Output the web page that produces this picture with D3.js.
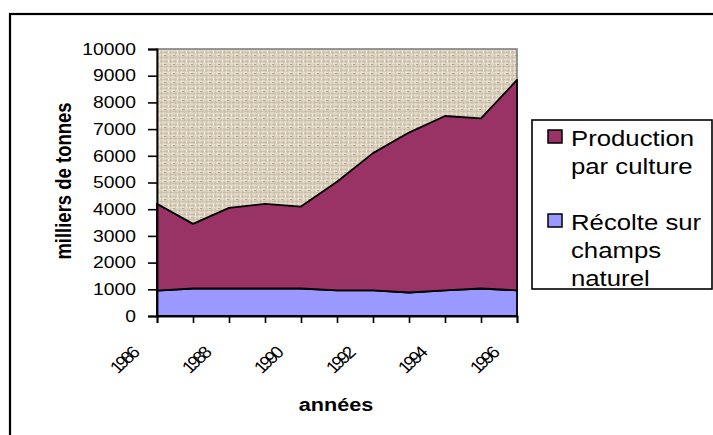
<!DOCTYPE html>
<html><head><meta charset="utf-8">
<script src="https://cdn.jsdelivr.net/npm/d3@7/dist/d3.min.js"></script>
<style>body{margin:0;background:#fff} svg{display:block}</style>
</head><body><svg id="c" width="713" height="435"></svg>
<script>
// ---- data ----
const years = [1986,1987,1988,1989,1990,1991,1992,1993,1994,1995,1996];
const naturel = [950,1030,1030,1030,1030,960,960,880,960,1030,960];
const culture = [3250,2420,3020,3170,3070,4070,5140,5990,6530,6370,7880];
const yTicks = [0,1000,2000,3000,4000,5000,6000,7000,8000,9000,10000];
const xLabelYears = [1986,1988,1990,1992,1994,1996];
const legendCulture = ["Production","par culture"];
const legendNaturel = ["Récolte sur","champs","naturel"];
const yTitle = "milliers de tonnes";
const xTitle = "années";

// ---- setup ----
const svg = d3.select("#c");
const FONT = "Arial, 'Liberation Sans', Helvetica, sans-serif";
const SX = 1.17; // horizontal stretch of the original picture
const colCulture = "#993366", colNaturel = "#9999ff";

const x = d3.scaleLinear().domain([1986,1996]).range([157,517]);
const y = d3.scaleLinear().domain([0,10000]).range([316,49]);

// outer frame
svg.append("rect").attr("x",10).attr("y",14).attr("width",720).attr("height",440)
  .attr("fill","none").attr("stroke","#000").attr("stroke-width",2.2);

// texture pattern
const defs = svg.append("defs");
const pat = defs.append("pattern").attr("id","burlap").attr("patternUnits","userSpaceOnUse")
  .attr("width",9).attr("height",9);
pat.append("rect").attr("width",9).attr("height",9).attr("fill","#d8cebb");
[[0,"#ece5d6",1.2],[3,"#c7baa3",0.8],[5,"#e4dccb",1],[7,"#bfb39d",0.6]].forEach(([o,c,w])=>{
  pat.append("rect").attr("x",0).attr("y",o).attr("width",9).attr("height",w).attr("fill",c).attr("opacity",0.8);
  pat.append("rect").attr("x",o+1).attr("y",0).attr("width",w).attr("height",9).attr("fill",c).attr("opacity",0.6);
});
pat.append("rect").attr("x",2).attr("y",1).attr("width",2).attr("height",1).attr("fill","#b3a68f");
pat.append("rect").attr("x",6).attr("y",6).attr("width",1).attr("height",2).attr("fill","#f3eee3");

// plot area
svg.append("rect").attr("x",x(1986)).attr("y",y(10000))
  .attr("width",x(1996)-x(1986)).attr("height",y(0)-y(10000))
  .attr("fill","url(#burlap)").attr("stroke","#808080").attr("stroke-width",1.6);

// stacked areas
const rows = years.map((yr,i)=>({year:yr, naturel:naturel[i], culture:culture[i]}));
const stack = d3.stack().keys(["naturel","culture"])(rows);
const area = d3.area().x(d=>x(d.data.year)).y0(d=>y(d[0])).y1(d=>y(d[1]));
const cols = {naturel:colNaturel, culture:colCulture};
svg.append("g").selectAll("path").data(stack).join("path")
  .attr("d",area).attr("fill",d=>cols[d.key])
  .attr("stroke","#000").attr("stroke-width",1.8).attr("stroke-linejoin","round");

// y axis
const gy = svg.append("g").attr("transform",`translate(${x(1986)},0)`)
  .call(d3.axisLeft(y).tickValues(yTicks).tickSize(9).tickFormat(d3.format("d")));
gy.select(".domain").attr("stroke","#000").attr("stroke-width",1.8);
gy.selectAll(".tick line").attr("stroke","#000").attr("stroke-width",1.6);
gy.selectAll(".tick text").attr("x",0).attr("transform",`translate(-21,0) scale(${SX},1)`)
  .attr("font-family",FONT).attr("font-size",16.5).attr("fill","#000");

// x axis
const gx = svg.append("g").attr("transform",`translate(0,${y(0)})`)
  .call(d3.axisBottom(x).tickValues(years).tickSize(7).tickFormat(""));
gx.select(".domain").attr("stroke","#000").attr("stroke-width",1.8);
gx.selectAll(".tick line").attr("stroke","#000").attr("stroke-width",1.6);

svg.append("g").selectAll("text").data(xLabelYears).join("text")
  .attr("transform",d=>`translate(${x(d)-18},${y(0)+39}) scale(1.1,1) rotate(-45)`)
  .attr("text-anchor","end").attr("font-family",FONT).attr("font-size",17)
  .attr("letter-spacing",-2.6).attr("fill","#000").text(d=>d);

// axis titles
svg.append("text").attr("transform",`translate(71,181) scale(${SX},1) rotate(-90)`)
  .attr("text-anchor","middle").attr("font-family",FONT).attr("font-weight","bold")
  .attr("font-size",18.5).attr("fill","#000").text(yTitle);
svg.append("text").attr("transform",`translate(336,411) scale(${SX},1)`)
  .attr("text-anchor","middle").attr("font-family",FONT).attr("font-weight","bold")
  .attr("font-size",18.5).attr("fill","#000").text(xTitle);

// legend
const lg = svg.append("g");
lg.append("rect").attr("x",532).attr("y",120).attr("width",180).attr("height",169)
  .attr("fill","#fff").attr("stroke","#000").attr("stroke-width",1.6);
const items = [{lines:legendCulture, col:colCulture, top:130},{lines:legendNaturel, col:colNaturel, top:214}];
items.forEach(it=>{
  lg.append("rect").attr("x",548).attr("y",it.top).attr("width",14).attr("height",13)
    .attr("fill",it.col).attr("stroke","#000").attr("stroke-width",1.5);
  it.lines.forEach((t,i)=>{
    lg.append("text").attr("transform",`translate(571,${it.top+16+i*28}) scale(${SX},1)`)
      .attr("font-family",FONT).attr("font-size",22).attr("fill","#000").text(t);
  });
});
</script></body></html>
